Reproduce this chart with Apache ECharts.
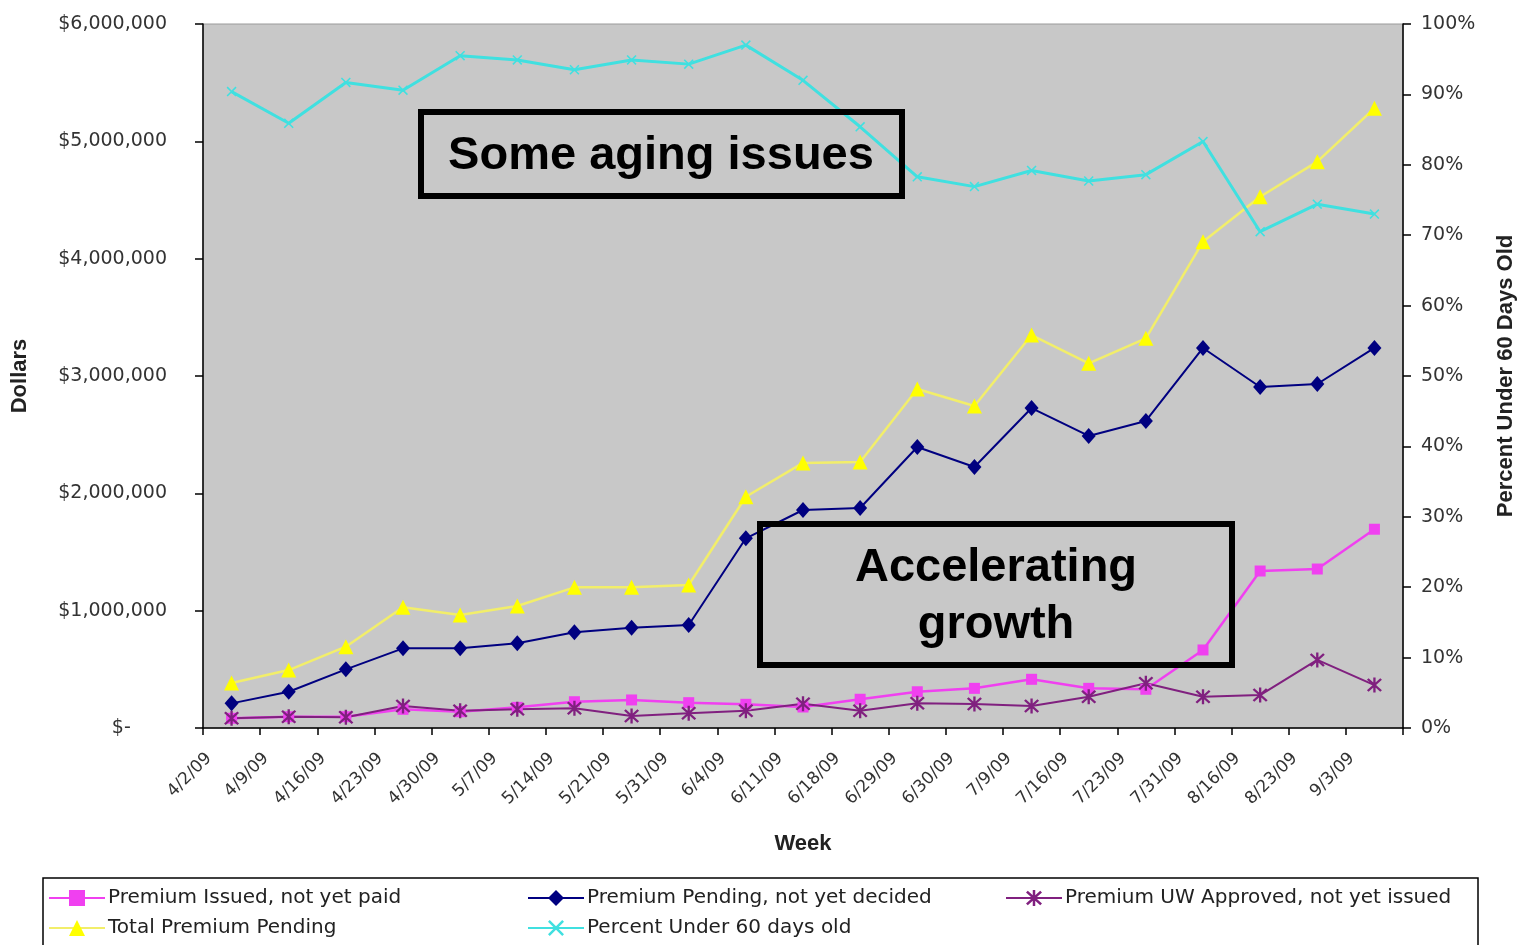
<!DOCTYPE html>
<html>
<head>
<meta charset="utf-8">
<script src="https://cdn.jsdelivr.net/npm/echarts@6/dist/echarts.min.js"></script>
<style>
html,body{margin:0;padding:0;background:#fff;}
#chart{width:1518px;height:945px;}
</style>
</head>
<body>
<div id="chart"></div>
<script>
const weeks = ['4/2/09','4/9/09','4/16/09','4/23/09','4/30/09','5/7/09','5/14/09','5/21/09','5/31/09','6/4/09','6/11/09','6/18/09','6/29/09','6/30/09','7/9/09','7/16/09','7/23/09','7/31/09','8/16/09','8/23/09','9/3/09'];
const premiumIssued = [83000,96000,96000,159000,139000,176000,224000,239000,216000,202000,179000,245000,309000,338000,415000,338000,330000,665000,1338000,1355000,1694000];
const premiumPending = [210000,309000,500000,679000,679000,722000,816000,855000,878000,1617000,1858000,1875000,2395000,2224000,2727000,2489000,2617000,3239000,2906000,2932000,3239000];
const premiumApproved = [83000,96000,91000,187000,147000,159000,168000,102000,125000,147000,207000,147000,211000,205000,187000,267000,381000,267000,281000,580000,366000];
const totalPending = [383000,494000,693000,1029000,963000,1040000,1199000,1199000,1219000,1971000,2259000,2267000,2889000,2744000,3349000,3108000,3321000,4145000,4528000,4827000,5282000];
const percentUnder60 = [90.4,85.9,91.7,90.6,95.5,94.9,93.5,94.9,94.3,97.0,92.0,85.4,78.3,76.9,79.2,77.7,78.6,83.3,70.5,74.4,73.0];
const dollarTicks = [0,1000000,2000000,3000000,4000000,5000000,6000000];
const percentTicks = [0,10,20,30,40,50,60,70,80,90,100];

const names = ['Premium Issued, not yet paid','Premium Pending, not yet decided','Premium UW Approved, not yet issued','Total Premium Pending','Percent Under 60 days old'];
const FONT = '"Liberation Sans", Arial, sans-serif';
const WFONT = '"DejaVu Sans", "Liberation Sans", Arial, sans-serif';
const starPath = 'path://M-1.4,-10L1.4,-10L1.4,10L-1.4,10Z M-9,7L7,-9L9,-7L-7,9Z M-9,-7L-7,-9L9,7L7,9Z';
const xPath = 'path://M-9,7L7,-9L9,-7L-7,9Z M-9,-7L-7,-9L9,7L7,9Z';

const chart = echarts.init(document.getElementById('chart'));

function fmtDollar(v){
  if (v === 0) return '$-      ';
  return '$' + v.toLocaleString('en-US');
}

function legendAt(name, left, top){
  return {
    data:[name], left:left, top:top, padding:0, itemWidth:56, itemHeight:20, itemGap:0,
    textStyle:{fontFamily:WFONT, fontSize:20, color:'#222', padding:[0,0,0,-2]},
    selectedMode:false
  };
}

const option = {
  backgroundColor:'#fff',
  animation:false,
  grid:{left:203, right:115, top:24, bottom:217, show:true, backgroundColor:'#c8c8c8', borderColor:'#9a9a9a', borderWidth:1, outerBoundsMode:'none', containLabel:false},
  xAxis:{
    type:'category', data:weeks, boundaryGap:true,
    name:'Week', nameLocation:'middle', nameGap:105,
    nameTextStyle:{fontFamily:FONT, fontSize:22, fontWeight:'bold', color:'#222'},
    axisLine:{lineStyle:{color:'#000', width:1.5}},
    axisTick:{show:true, interval:0, length:7, lineStyle:{color:'#000', width:1.5}},
    axisLabel:{interval:0, rotate:45, fontFamily:WFONT, fontSize:17, color:'#333', margin:5, padding:[0,32,0,0]},
    splitLine:{show:false}
  },
  yAxis:[{
    type:'value', min:0, max:6000000, interval:1000000, position:'left',
    name:'Dollars', nameLocation:'middle', nameGap:172, nameRotate:90,
    nameTextStyle:{fontFamily:FONT, fontSize:22, fontWeight:'bold', color:'#222'},
    axisLine:{show:true, lineStyle:{color:'#000', width:1.5}},
    axisTick:{show:true, length:8, lineStyle:{color:'#000', width:1.5}},
    axisLabel:{formatter:fmtDollar, fontFamily:WFONT, fontSize:19, color:'#333', margin:36},
    splitLine:{show:false}
  },{
    type:'value', min:0, max:100, interval:10, position:'right',
    name:'Percent Under 60 Days Old', nameLocation:'middle', nameGap:92, nameRotate:90,
    nameTextStyle:{fontFamily:FONT, fontSize:22, fontWeight:'bold', color:'#222'},
    axisLine:{show:true, lineStyle:{color:'#000', width:1.5}},
    axisTick:{show:true, length:8, lineStyle:{color:'#000', width:1.5}},
    axisLabel:{formatter:'{value}%', fontFamily:WFONT, fontSize:19, color:'#333', margin:18},
    splitLine:{show:false}
  }],
  legend:[
    legendAt(names[0], 48, 888),
    legendAt(names[1], 527, 888),
    legendAt(names[2], 1005, 888),
    legendAt(names[3], 48, 918),
    legendAt(names[4], 527, 918)
  ],
  series:[
    {name:names[0], type:'line', data:premiumIssued, yAxisIndex:0,
     symbol:'rect', symbolSize:11, showAllSymbol:true,
     lineStyle:{color:'#f040f0', width:2.5}, itemStyle:{color:'#f040f0'}},
    {name:names[1], type:'line', data:premiumPending, yAxisIndex:0,
     symbol:'diamond', symbolSize:[14,16], showAllSymbol:true,
     lineStyle:{color:'#000080', width:2}, itemStyle:{color:'#000080'}},
    {name:names[2], type:'line', data:premiumApproved, yAxisIndex:0,
     symbol:starPath, symbolSize:15, showAllSymbol:true,
     lineStyle:{color:'#80207f', width:2}, itemStyle:{color:'#80207f'}},
    {name:names[3], type:'line', data:totalPending, yAxisIndex:0,
     symbol:'triangle', symbolSize:15, showAllSymbol:true,
     lineStyle:{color:'#f2ee6a', width:2.5}, itemStyle:{color:'#ffff00'}},
    {name:names[4], type:'line', data:percentUnder60, yAxisIndex:1,
     symbol:xPath, symbolSize:10, showAllSymbol:true,
     lineStyle:{color:'#40e0e0', width:3}, itemStyle:{color:'#40e0e0'}}
  ],
  graphic:[
    {type:'rect', shape:{x:43, y:878, width:1435, height:70}, style:{fill:'#fff', stroke:'#000', lineWidth:1.5}, z:-1, silent:true},
    {type:'rect', shape:{x:421, y:112, width:481, height:84}, style:{fill:'none', stroke:'#000', lineWidth:6}, z:50, silent:true},
    {type:'text', x:661, y:156, style:{text:'Some aging issues', font:'bold 47px "Liberation Sans", Arial, sans-serif', fill:'#000', textAlign:'center', textVerticalAlign:'middle'}, z:51, silent:true},
    {type:'rect', shape:{x:760, y:524, width:472, height:141}, style:{fill:'none', stroke:'#000', lineWidth:6}, z:50, silent:true},
    {type:'text', x:996, y:597, style:{text:'Accelerating\ngrowth', font:'bold 47px "Liberation Sans", Arial, sans-serif', lineHeight:57, fill:'#000', textAlign:'center', textVerticalAlign:'middle'}, z:51, silent:true}
  ]
};
chart.setOption(option);
</script>
</body>
</html>
